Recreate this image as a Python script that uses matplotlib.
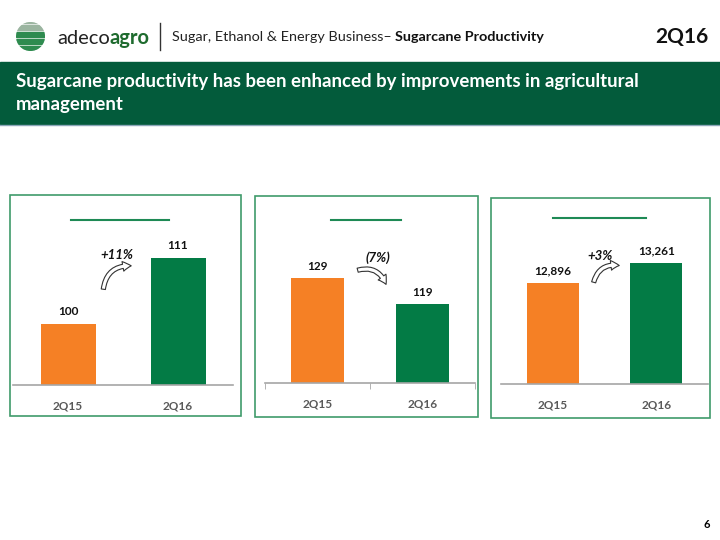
import numpy as np
import matplotlib.pyplot as plt
from matplotlib.patches import Rectangle, Circle, FancyArrowPatch

plt.rcParams['font.family'] = ['Lato', 'DejaVu Sans']

# data
periods = ['2Q15', '2Q16']
panel_values = [[100, 111], [129, 119], [12896, 13261]]
panel_labels = [['100', '111'], ['129', '119'], ['12,896', '13,261']]
changes = ['+11%', '(7%)', '+3%']

orange = '#F58025'
green = '#037B45'
dark_green = '#035B3B'
box_green = '#3F9B6B'

W, H = 720, 540
fig = plt.figure(figsize=(7.2, 5.4), dpi=100)
renderer = fig.canvas.get_renderer()

def fx(x):
    return x / W

def fy(y):
    return 1 - y / H

def text_run(x, y, parts, **kw):
    # draw consecutive text pieces, each starting where the previous ended
    for s, extra in parts:
        t = fig.text(fx(x), fy(y), s, va='center', ha='left', **kw, **extra)
        bb = t.get_window_extent(renderer)
        x = x + bb.width
    return x

# header logo
logo = fig.add_axes([fx(16), fy(51), fx(29), 29 / H])
logo.set_xlim(-1, 1)
logo.set_ylim(-1, 1)
logo.set_aspect('equal')
logo.axis('off')
clip = Circle((0, 0), 1, transform=logo.transData)
for i, yb in enumerate(np.linspace(-1, 0.9, 9)):
    r = logo.add_patch(Rectangle((-1, yb), 2, 0.13, color='#2E8B4F' if i < 6 else '#9BB5A0'))
    r.set_clip_path(clip)

text_run(57, 38, [('adeco', dict(color='#222222')),
                  ('agro', dict(color='#1E6B2E', fontweight='bold'))], fontsize=14.5)
fig.add_artist(plt.Line2D([fx(160), fx(160)], [fy(23), fy(50)], color='#333333', lw=1))
text_run(172, 37, [('Sugar, Ethanol & Energy Business\u2013 ', dict(color='#222222')),
                   ('Sugarcane Productivity', dict(color='#111111', fontweight='bold'))], fontsize=10.4)
fig.text(fx(708), fy(37), '2Q16', fontsize=15, color='#111111', va='center', ha='right', fontweight='bold')

# banner
fig.add_artist(Rectangle((0, fy(124)), 1, 62 / H, color=dark_green, transform=fig.transFigure))
fig.add_artist(plt.Line2D([0, 1], [fy(124.5), fy(124.5)], color='#8AA6B8', lw=1))
fig.text(fx(16), fy(82), 'Sugarcane productivity has been enhanced by improvements in agricultural',
         fontsize=13.4, color='white', fontweight='bold', va='center')
fig.text(fx(16), fy(104), 'management', fontsize=13.4, color='white', fontweight='bold', va='center')

# panels: box, underline, axes extents (pixels)
boxes = [(10, 195, 241, 416), (255, 196, 478, 417), (491, 198, 710, 418)]
underlines = [(71, 169, 220), (331, 401, 220), (553, 646, 218)]
axes_px = [(13, 233, 385), (265, 475, 383), (501, 708, 384)]
ylims = [(89.8, 120.6), (88.6, 159.0), (11053, 14411)]
top_px = 200

for k in range(3):
    x0, y0, x1, y1 = boxes[k]
    fig.add_artist(Rectangle((fx(x0), fy(y1)), fx(x1 - x0), (y1 - y0) / H, fill=False,
                             edgecolor=box_green, lw=1.2, transform=fig.transFigure))
    ux0, ux1, uy = underlines[k]
    fig.add_artist(plt.Line2D([fx(ux0), fx(ux1)], [fy(uy), fy(uy)], color='#1E8A55', lw=1.5))

    ax0, ax1, base = axes_px[k]
    ax = fig.add_axes([fx(ax0), fy(base), fx(ax1 - ax0), (base - top_px) / H])
    vals = panel_values[k]
    ax.bar([0, 1], vals, width=0.5, color=[orange, green], zorder=2)
    ax.set_xlim(-0.5, 1.5)
    ax.set_ylim(*ylims[k])
    for s in ['top', 'right', 'left']:
        ax.spines[s].set_visible(False)
    ax.spines['bottom'].set_color('#A6A6A6')
    ax.spines['bottom'].set_linewidth(1.2)
    ax.set_yticks([])
    ax.set_xticks([0, 1])
    ax.set_xticklabels(periods, fontsize=8.5, color='#595959', fontweight='bold')
    ax.tick_params(axis='x', length=0, pad=11)
    if k == 1:
        ax.set_xticks([-0.5, 0.5, 1.5], minor=True)
        ax.tick_params(axis='x', which='minor', length=4, color='#A6A6A6')
    ax.patch.set_alpha(0)
    span = ylims[k][1] - ylims[k][0]
    for i, v in enumerate(vals):
        ax.text(i, v + span * 0.035, panel_labels[k][i], ha='center', va='bottom',
                fontsize=8.5, fontweight='bold', color='#111111')

# change labels and curved arrows (pixel positions)
change_pos = [(117, 255), (378, 258), (600, 256)]
arrows = [((103, 292), (134, 266), -0.5), ((355, 271), (387, 287), -0.5), ((593, 285), (622, 266), -0.5)]
for k in range(3):
    cx, cy = change_pos[k]
    fig.text(fx(cx), fy(cy), changes[k], fontsize=9.5, fontweight='bold', style='italic',
             ha='center', va='center', color='#111111')
    (a, b), (c, d), rad = arrows[k]
    fig.add_artist(FancyArrowPatch((fx(a), fy(b)), (fx(c), fy(d)), transform=fig.transFigure,
                                   connectionstyle='arc3,rad=%s' % rad,
                                   arrowstyle='simple,head_width=7,head_length=6,tail_width=3',
                                   facecolor='white', edgecolor='#333333', lw=0.8))

fig.text(fx(710), fy(525), '6', fontsize=8, fontweight='bold', ha='right', va='center')

fig.savefig('out.png', dpi=100)
